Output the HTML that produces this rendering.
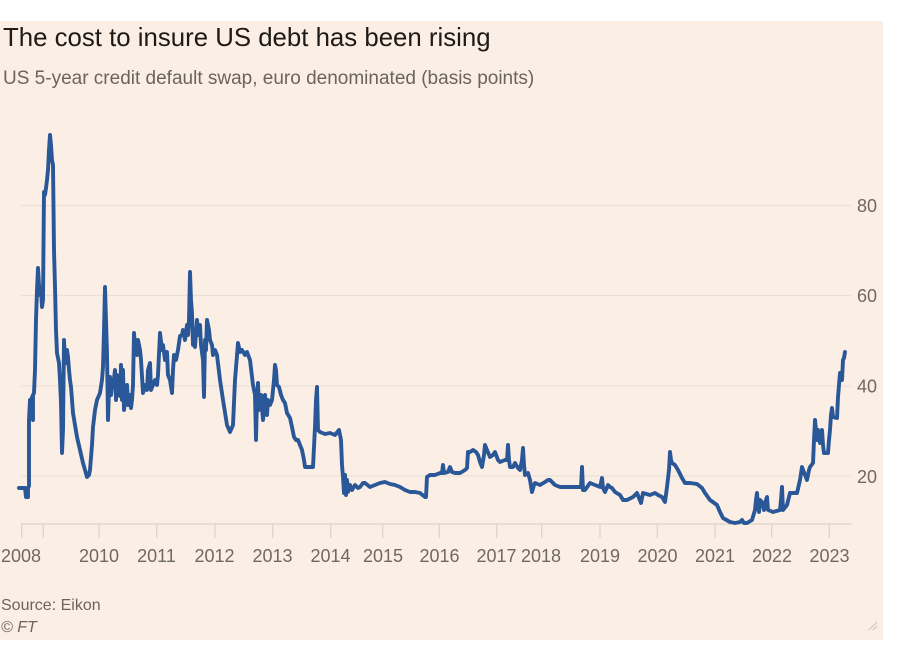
<!DOCTYPE html>
<html><head><meta charset="utf-8"><style>
html,body{margin:0;padding:0;background:#fff;}
svg{display:block;font-family:"Liberation Sans",sans-serif;}
</style></head><body>
<svg width="917" height="655" viewBox="0 0 917 655" xmlns="http://www.w3.org/2000/svg">
<rect x="0" y="0" width="917" height="655" fill="#ffffff"/>
<rect x="0" y="21" width="883" height="619" fill="#fbefe5"/>
<text x="3" y="46" font-size="25.8" fill="#1d1a18">The cost to insure US debt has been rising</text>
<text x="3" y="84" font-size="19" fill="#6a645f">US 5-year credit default swap, euro denominated (basis points)</text>
<g stroke="#ebe0d6" stroke-width="1.2">
<line x1="21" y1="205.5" x2="851" y2="205.5"/>
<line x1="21" y1="295.5" x2="851" y2="295.5"/>
<line x1="21" y1="386" x2="851" y2="386"/>
<line x1="21" y1="476" x2="851" y2="476"/>
</g>
<g stroke="#ddd2c8" stroke-width="1.2">
<line x1="21" y1="524" x2="852" y2="524"/>
<line x1="21.7" y1="524" x2="21.7" y2="538"/>
<line x1="43.3" y1="524" x2="43.3" y2="538"/>
<line x1="99" y1="524" x2="99" y2="538"/>
<line x1="156.7" y1="524" x2="156.7" y2="538"/>
<line x1="215" y1="524" x2="215" y2="538"/>
<line x1="272.7" y1="524" x2="272.7" y2="538"/>
<line x1="330.7" y1="524" x2="330.7" y2="538"/>
<line x1="382.7" y1="524" x2="382.7" y2="538"/>
<line x1="439.3" y1="524" x2="439.3" y2="538"/>
<line x1="496.7" y1="524" x2="496.7" y2="538"/>
<line x1="541.7" y1="524" x2="541.7" y2="538"/>
<line x1="600" y1="524" x2="600" y2="538"/>
<line x1="657.3" y1="524" x2="657.3" y2="538"/>
<line x1="715" y1="524" x2="715" y2="538"/>
<line x1="771.7" y1="524" x2="771.7" y2="538"/>
<line x1="829.3" y1="524" x2="829.3" y2="538"/>
</g>
<g font-size="18" fill="#6e6863">
<text x="857" y="212">80</text>
<text x="857" y="302">60</text>
<text x="857" y="392.5">40</text>
<text x="857" y="483">20</text>
</g>
<g font-size="18" fill="#6e6863" text-anchor="middle">
<text x="21" y="562">2008</text>
<text x="99" y="562">2010</text>
<text x="156.5" y="562">2011</text>
<text x="214.5" y="562">2012</text>
<text x="272.5" y="562">2013</text>
<text x="330.5" y="562">2014</text>
<text x="383" y="562">2015</text>
<text x="439.5" y="562">2016</text>
<text x="496.5" y="562">2017</text>
<text x="541" y="562">2018</text>
<text x="600" y="562">2019</text>
<text x="657.5" y="562">2020</text>
<text x="715" y="562">2021</text>
<text x="772" y="562">2022</text>
<text x="829.5" y="562">2023</text>
</g>
<polyline fill="none" stroke="#2a5797" stroke-width="3.9" stroke-linejoin="round" stroke-linecap="round" points="
19,488 25,488 26,497 28,497 28,488 29,486 29,420 30,400 31,410 32,397 33,420 33,395 34,393 35,370 36,320 37,290 38,268 39,285 40,295 41,290 42,307 43,300 44,192 45,195 46,188 47,180 48,170 49,150 50,135 51,145 52,160 53,165 54,250 55,287 56,330 57,353 58,358 59,363 60,380 61,403 62,453 63,430 64,340 65,360 66,363 67,350 68,357 69,370 70,380 71,387 72,400 73,413 75,425 77,437 80,450 83,463 85,470 87,477 89,475 90,470 92,445 93,427 95,410 97,400 100,393 102,380 103,367 104,330 105,287 106,320 107,353 108,420 109,390 110,377 111,395 112,385 113,387 115,370 116,400 117,375 119,380 120,396 121,365 122,400 123,370 124,410 126,395 127,385 128,405 130,395 131,408 132,400 133,385 134,333 135,345 136,340 137,355 138,340 140,350 141,360 143,393 145,385 147,390 148,370 150,363 151,390 153,385 155,380 157,385 158,375 160,333 162,350 163,345 165,360 167,352 168,375 170,380 172,393 173,370 174,355 176,360 178,350 180,336 182,335 183,330 185,340 187,325 188,335 189,320 190,272 191,300 192,313 193,345 194,330 195,347 197,320 198,335 200,325 201,345 203,360 204,397 205,340 206,350 207,320 209,330 210,340 212,345 213,355 215,350 217,355 220,380 223,400 227,425 230,432 233,425 235,380 238,343 240,352 242,350 245,355 247,352 250,360 253,385 255,395 256,440 257,400 258,383 259,410 260,408 261,395 263,420 265,395 267,415 268,400 270,405 272,400 274,380 275,365 276,370 277,385 279,387 281,395 283,400 285,403 287,413 290,418 292,427 294,437 296,440 298,440 300,445 302,450 304,460 305,467 310,467 313,467 315,427 316,400 317,387 318,430 320,432 325,434 330,433 335,435 339,430 341,440 342,465 343,477 344,493 345,475 346,495 347,480 348,492 350,485 352,490 355,485 358,488 360,487 363,483 365,483 370,487 375,485 380,483 385,482 390,484 395,485 400,487 405,490 410,492 415,492 420,493 425,497 426,497 427,477 430,475 435,475 440,473 442,473 443,465 444,473 448,472 450,467 452,472 455,473 460,473 465,470 467,468 468,452 470,452 473,450 476,452 478,455 480,462 482,467 484,455 485,445 487,450 490,457 493,455 495,452 498,460 500,462 505,460 507,460 508,445 509,460 510,467 513,467 515,463 518,468 520,470 522,460 523,448 524,465 525,475 528,473 530,480 532,492 534,485 535,483 540,485 545,482 548,480 550,480 555,485 560,487 565,487 570,487 575,487 580,487 581,487 582,467 583,490 585,490 590,483 595,485 600,487 602,478 603,488 605,492 608,485 610,487 612,488 615,492 620,495 623,500 625,500 627,500 633,497 637,493 641,503 643,493 650,495 655,493 658,495 662,497 665,502 667,487 669,470 670,452 671,460 672,463 675,465 678,470 682,478 685,483 690,483 697,484 702,488 705,493 710,500 717,505 720,512 723,518 730,522 735,523 740,522 742,520 744,523 747,523 752,520 755,510 756,500 757,493 758,505 759,512 760,500 762,502 764,510 766,500 767,497 768,510 773,512 780,510 781,500 782,487 783,510 787,505 790,493 797,493 800,480 802,467 805,475 807,480 809,470 810,467 813,463 814,440 815,420 816,430 817,440 818,430 820,443 822,430 823,445 824,453 828,453 829,440 830,430 831,415 832,408 833,417 837,418 838,397 839,385 840,373 841,380 842,380 843,360 844,358 845,352"/>
<text x="1" y="610" font-size="16" fill="#6a645f">Source: Eikon</text>
<text x="1" y="632" font-size="16" font-style="italic" fill="#6a645f">© FT</text>
<g stroke="#c9c0b8" stroke-width="1">
<line x1="869" y1="630" x2="877" y2="622"/>
<line x1="873" y1="630" x2="877" y2="626"/>
</g>
</svg>
</body></html>
